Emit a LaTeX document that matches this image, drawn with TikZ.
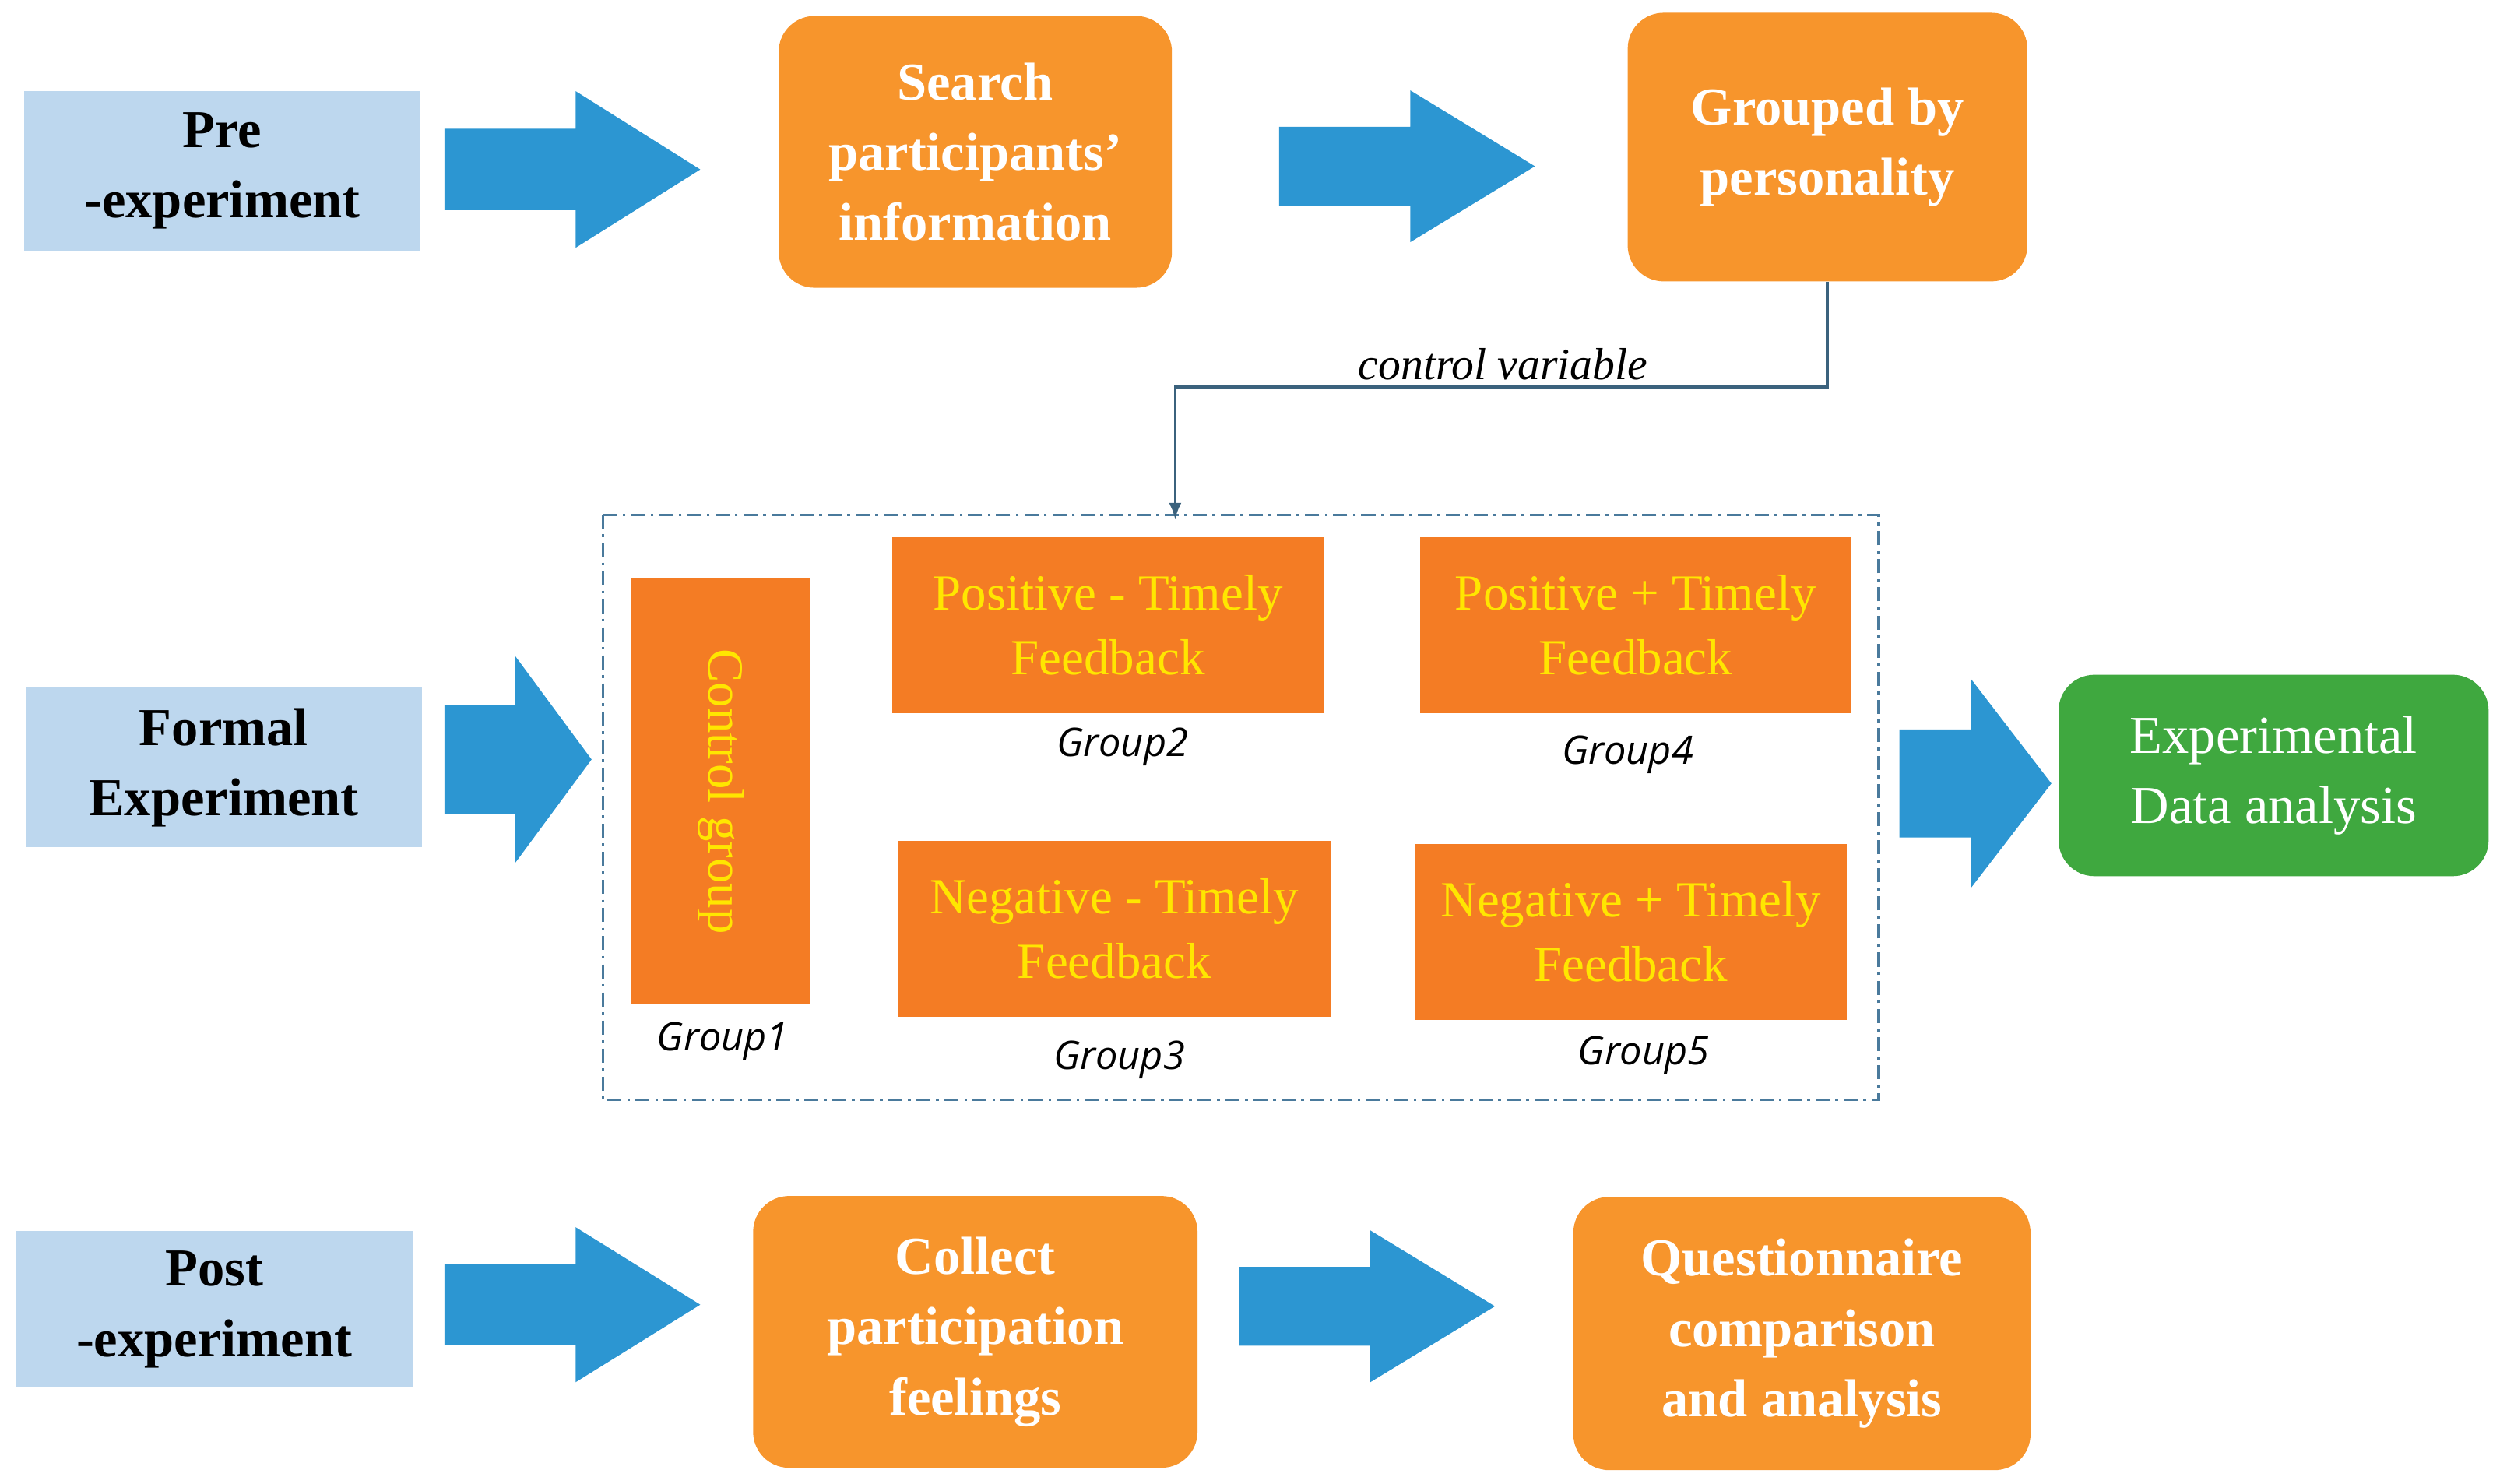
\documentclass[tikz,border=0pt]{standalone}
\usetikzlibrary{arrows.meta}
\usepackage{fontspec}
\setmainfont{Liberation Serif}
\newfontfamily\grpfont{Open Sans}
\definecolor{lb}{HTML}{BDD7EE}
\definecolor{ar}{HTML}{2C96D2}
\definecolor{org}{HTML}{F7952C}
\definecolor{org2}{HTML}{F47C24}
\definecolor{yel}{HTML}{FFE600}
\definecolor{grn}{HTML}{3FA83F}
\definecolor{dcol}{HTML}{4A7A9C}
\newcommand\barrow[5]{% x1 x2 ymid h headlen
  \fill[ar] (#1,#3-0.26*#4) -- (#2-#5,#3-0.26*#4) -- (#2-#5,#3-0.5*#4) -- (#2,#3) -- (#2-#5,#3+0.5*#4) -- (#2-#5,#3+0.26*#4) -- (#1,#3+0.26*#4) -- cycle;}
\begin{document}
\begin{tikzpicture}[x=0.02cm,y=-0.02cm,
  phase/.style={fill=lb,draw=none,font=\fontsize{19}{25}\selectfont\bfseries,align=center,minimum width=4.96cm,minimum height=2cm},
  stepbox/.style={fill=org,draw=none,rounded corners=0.45cm,text=white,font=\fontsize{19}{25}\selectfont\bfseries,align=center},
  grp/.style={fill=org2,draw=none,text=yel,font=\fontsize{18}{23}\selectfont,align=center,minimum width=5.4cm,minimum height=2.2cm},
  lab/.style={font=\grpfont\itshape\fontsize{14}{16}\selectfont}]
\useasboundingbox (0,0) rectangle (1568,928);
\node[phase] (pre) at (139,107) {Pre\\-experiment};
\node[phase] (formal) at (140,480) {Formal\\Experiment};
\node[phase,minimum height=1.96cm] (post) at (134,819) {Post\\-experiment};
\node[stepbox,minimum width=4.92cm,minimum height=3.4cm] (search) at (610,95) {Search\\participants'\\information};
\node[stepbox,minimum width=5cm,minimum height=3.36cm] (grouped) at (1143,92) {Grouped by\\personality};
\node[stepbox,minimum width=5.56cm,minimum height=3.4cm] (collect) at (610,833) {Collect\\participation\\feelings};
\node[stepbox,minimum width=5.72cm,minimum height=3.42cm] (quest) at (1127,834) {Questionnaire\\comparison\\and analysis};
\node[fill=grn,rounded corners=0.45cm,text=white,font=\fontsize{19}{25}\selectfont,align=center,minimum width=5.38cm,minimum height=2.52cm] (data) at (1422,485) {Experimental\\Data analysis};
\draw[color=dcol,line width=0.9pt,dash pattern=on 5pt off 2pt on 1pt off 2pt] (377,322) rectangle (1175,688);
\node[grp,minimum width=5.32cm,minimum height=2.24cm,rotate=-90] (ctrl) at (451,495) {Control group};
\node[grp] (pm) at (693,391) {Positive - Timely\\Feedback};
\node[grp] (pp) at (1023,391) {Positive + Timely\\Feedback};
\node[grp] (nm) at (697,581) {Negative - Timely\\Feedback};
\node[grp] (np) at (1020,583) {Negative + Timely\\Feedback};
\node[lab] (g1) at (452,651) {Group1};
\node[lab] (g2) at (702,467) {Group2};
\node[lab] (g3) at (700,663) {Group3};
\node[lab] (g4) at (1018,472) {Group4};
\node[lab] (g5) at (1028,660) {Group5};
\coordinate (tgt) at (735,325);
\draw[color=dcol!80!black,line width=1pt,-{Latex[length=6pt]}] (grouped.south) -- (1143,242) -- (735,242) -- (tgt);
\node[font=\itshape\fontsize{16}{18}\selectfont] (cv) at (940,228) {control variable};
\barrow{278}{438}{106}{98}{78}
\barrow{800}{960}{104}{95}{78}
\barrow{278}{370}{475}{130}{48}
\barrow{1188}{1283}{490}{130}{50}
\barrow{278}{438}{816}{97}{78}
\barrow{775}{935}{817}{95}{78}
\end{tikzpicture}
\end{document}
